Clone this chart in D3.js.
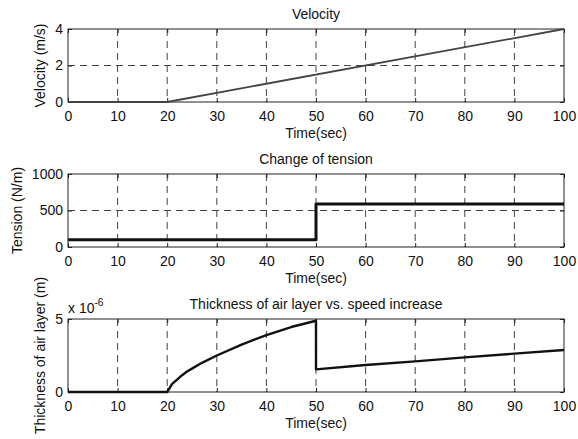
<!DOCTYPE html>
<html>
<head>
<meta charset="utf-8">
<script src="https://cdn.jsdelivr.net/npm/d3@7"></script>
<style>
    body { margin: 0; background: #fff; }
    svg { display: block; }
</style>
</head>
<body>
<div class="vis"></div>
<script>
const width = 578,
    height = 439,
    margin = {left: 68, right: 14},
    panelTops = [29, 174, 319],
    panelHeight = 73;

const timeTicks = [0, 10, 20, 30, 40, 50, 60, 70, 80, 90, 100];

// velocity (m/s)
const velocityTime = [0, 20, 100],
    velocityValue = [0, 0, 4],
    velocityTicks = [0, 2, 4];

// tension (N/m)
const tensionTime = [0, 50, 50, 100],
    tensionValue = [100, 100, 590, 590],
    tensionTicks = [0, 500, 1000];

// air layer thickness, in units of 1e-6 m
const thicknessTime = [0, 20, 21, 22, 23, 24, 25, 27, 30, 35, 40, 45, 50, 50, 60, 70, 80, 90, 100],
    thicknessValue = [0, 0, 0.55, 0.85, 1.15, 1.4, 1.6, 2.0, 2.5, 3.25, 3.9, 4.45, 4.88, 1.55, 1.85, 2.1, 2.37, 2.63, 2.88],
    thicknessTicks = [0, 5];

const font = 'Liberation Sans, Arial, Helvetica, sans-serif';

let svg = d3.select(".vis")
    .append("svg")
    .attr("width", width)
    .attr("height", height)
    .style("font-family", font);

let x = d3.scaleLinear()
    .domain([0, 100])
    .range([margin.left, width - margin.right]);

function drawPanel(top, title, yLabel, yLabelX, ticks, times, values, lineColor, lineWidth) {
    let y = d3.scaleLinear()
        .domain([ticks[0], ticks[ticks.length - 1]])
        .range([top + panelHeight, top]);

    let g = svg.append('g');

    // grid
    g.append('g').selectAll('line')
        .data(timeTicks.slice(1, -1))
        .join('line')
        .attr('x1', d => x(d)).attr('x2', d => x(d))
        .attr('y1', top).attr('y2', top + panelHeight)
        .style('stroke', '#444')
        .style('stroke-width', 1)
        .style('stroke-dasharray', '7,5');

    g.append('g').selectAll('line')
        .data(ticks.slice(1, -1))
        .join('line')
        .attr('x1', x(0)).attr('x2', x(100))
        .attr('y1', d => y(d)).attr('y2', d => y(d))
        .style('stroke', '#444')
        .style('stroke-width', 1)
        .style('stroke-dasharray', '7,5');

    // axes with inward ticks
    g.append('g')
        .attr('transform', 'translate(0,' + (top + panelHeight) + ')')
        .call(d3.axisBottom(x).tickValues(timeTicks).tickFormat(d3.format('d'))
            .tickSizeInner(-4).tickSizeOuter(0).tickPadding(9.5));
    g.append('g')
        .attr('transform', 'translate(' + margin.left + ',0)')
        .call(d3.axisLeft(y).tickValues(ticks).tickFormat(d3.format('d'))
            .tickSizeInner(-4).tickSizeOuter(0).tickPadding(5));
    g.append('g')
        .attr('transform', 'translate(0,' + top + ')')
        .call(d3.axisTop(x).tickValues(timeTicks).tickSizeInner(-4).tickSizeOuter(0).tickFormat(''));
    g.append('g')
        .attr('transform', 'translate(' + x(100) + ',0)')
        .call(d3.axisRight(y).tickValues(ticks).tickSizeInner(-4).tickSizeOuter(0).tickFormat(''));

    g.selectAll('.domain').remove();
    g.selectAll('.tick line').style('stroke', '#222');
    g.selectAll('.tick text')
        .style('font-family', font)
        .style('font-size', '14px')
        .style('fill', '#111');

    g.append('rect')
        .attr('x', x(0))
        .attr('y', top)
        .attr('width', x(100) - x(0))
        .attr('height', panelHeight)
        .style('fill', 'none')
        .style('stroke', '#222')
        .style('stroke-width', 1);

    // data line
    g.append('path')
        .datum(d3.zip(times, values))
        .attr('d', d3.line().x(d => x(d[0])).y(d => y(d[1])))
        .style('fill', 'none')
        .style('stroke', lineColor)
        .style('stroke-width', lineWidth)
        .style('stroke-linejoin', 'round');

    // texts
    g.append('text')
        .attr('x', (x(0) + x(100)) / 2)
        .attr('y', top - 10)
        .text(title)
        .style('font-size', '14px')
        .style('fill', '#111')
        .style('text-anchor', 'middle');

    g.append('text')
        .attr('x', (x(0) + x(100)) / 2)
        .attr('y', top + panelHeight + 36)
        .text('Time(sec)')
        .style('font-size', '14px')
        .style('fill', '#111')
        .style('text-anchor', 'middle');

    g.append('text')
        .attr('transform', 'translate(' + yLabelX + ',' + (top + panelHeight / 2) + ') rotate(-90)')
        .text(yLabel)
        .style('font-size', '14px')
        .style('fill', '#111')
        .style('text-anchor', 'middle');

    return g;
}

drawPanel(panelTops[0], 'Velocity', 'Velocity (m/s)', 45,
    velocityTicks, velocityTime, velocityValue, '#444', 1.8);

drawPanel(panelTops[1], 'Change of tension', 'Tension (N/m)', 22,
    tensionTicks, tensionTime, tensionValue, '#111', 3);

let p3 = drawPanel(panelTops[2], 'Thickness of air layer vs. speed increase', 'Thickness of air layer (m)', 45,
    thicknessTicks, thicknessTime, thicknessValue, '#111', 2.4);

// exponent label
let expo = p3.append('text')
    .attr('x', x(0))
    .attr('y', panelTops[2] - 6)
    .style('font-size', '14px')
    .style('fill', '#111');
expo.append('tspan').text('x 10');
expo.append('tspan')
    .attr('dy', -7)
    .style('font-size', '10px')
    .text('-6');
</script>
</body>
</html>
